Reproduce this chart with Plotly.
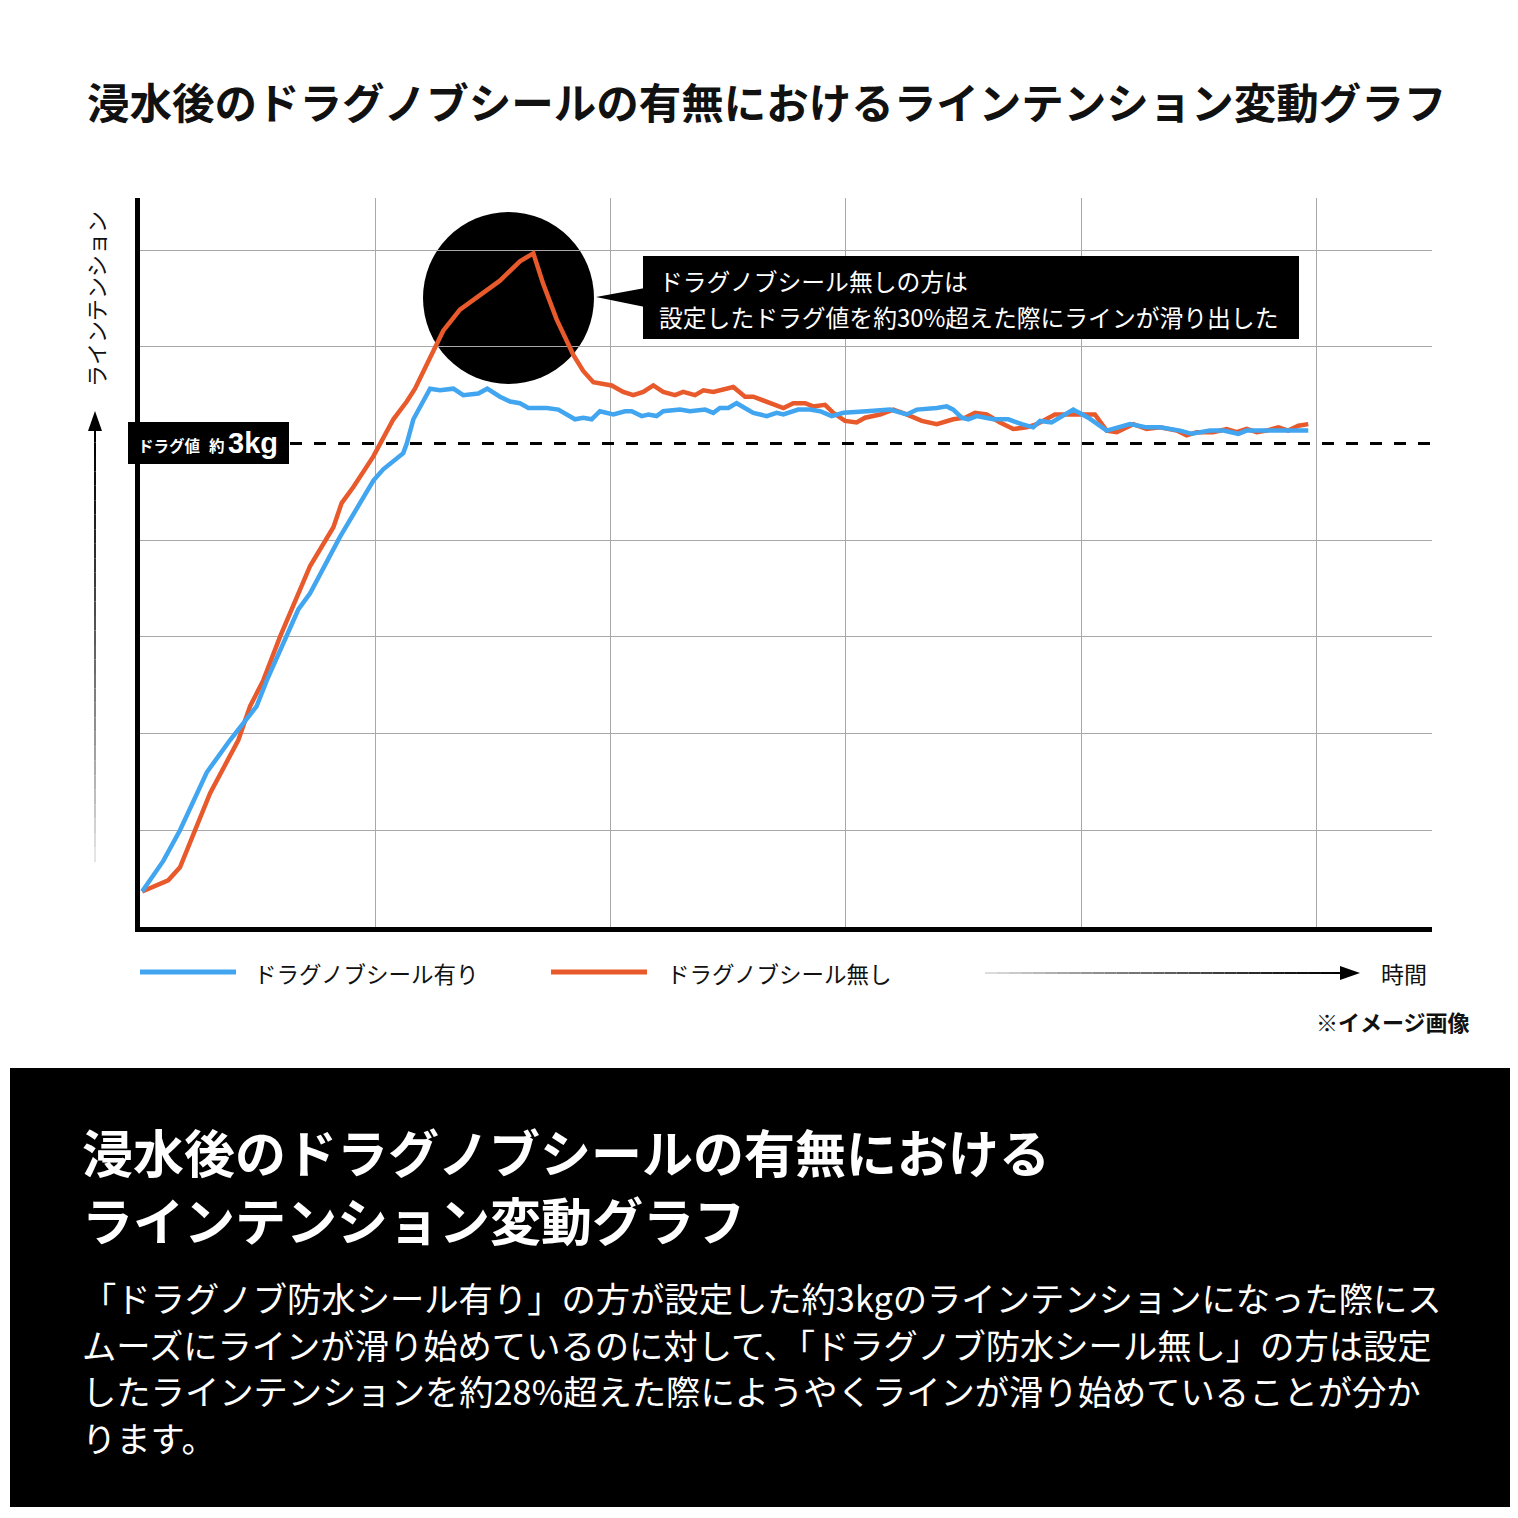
import plotly.graph_objects as go

# ---------------- data ----------------
time_blue = [0.09, 0.99, 1.70, 2.84, 3.83, 4.96, 5.39, 6.16, 6.73, 7.23,
             8.50, 9.92, 10.34, 11.19, 11.34, 11.62, 12.33, 12.75, 13.32, 13.74,
             14.38, 14.76, 15.30, 15.73, 16.15, 16.51, 17.29, 17.78, 18.49, 18.84,
             19.20, 19.55, 20.12, 20.62, 20.90, 21.33, 21.61, 21.96, 22.24, 22.95,
             23.38, 24.02, 24.37, 24.65, 25.01, 25.36, 26.07, 26.64, 27.06, 27.35,
             27.98, 28.48, 28.91, 29.40, 29.90, 30.89, 31.88, 32.59, 33.02, 33.87,
             34.29, 34.57, 34.93, 35.21, 35.57, 36.27, 36.91, 37.48, 37.97, 38.26,
             38.75, 39.67, 40.31, 41.09, 42.08, 42.79, 43.36, 44.21, 44.71, 45.48,
             46.05, 46.69, 47.04, 47.89, 48.46, 49.66]
tension_blue = [0.22, 0.41, 0.60, 0.96, 1.16, 1.37, 1.53, 1.78, 1.97, 2.07,
                2.42, 2.77, 2.84, 2.94, 3.00, 3.15, 3.34, 3.33, 3.34, 3.30,
                3.31, 3.34, 3.29, 3.26, 3.25, 3.22, 3.22, 3.21, 3.15, 3.16,
                3.15, 3.20, 3.18, 3.20, 3.20, 3.17, 3.18, 3.17, 3.20, 3.21,
                3.20, 3.21, 3.19, 3.22, 3.22, 3.25, 3.19, 3.17, 3.19, 3.18,
                3.21, 3.21, 3.20, 3.17, 3.19, 3.20, 3.21, 3.18, 3.21, 3.22,
                3.23, 3.21, 3.16, 3.15, 3.17, 3.15, 3.15, 3.12, 3.10, 3.14,
                3.13, 3.21, 3.16, 3.08, 3.12, 3.10, 3.10, 3.08, 3.06, 3.08,
                3.08, 3.06, 3.08, 3.08, 3.08, 3.08]

time_orange = [0.09, 1.20, 1.70, 2.27, 2.98, 4.18, 4.68, 5.24, 5.95, 7.23,
               7.79, 8.22, 8.57, 9.07, 9.92, 10.20, 10.77, 11.34, 11.69, 12.19,
               12.89, 13.60, 14.45, 15.30, 16.15, 16.37, 16.72, 17.14, 17.71, 18.42,
               18.84, 19.27, 20.05, 20.54, 20.97, 21.39, 21.82, 22.24, 22.74, 23.09,
               23.59, 23.95, 24.37, 25.22, 25.72, 26.07, 26.78, 27.35, 27.77, 28.27,
               28.62, 29.12, 29.47, 29.97, 30.46, 30.82, 31.46, 32.02, 32.59, 33.23,
               33.87, 34.57, 35.07, 35.49, 35.99, 36.56, 37.12, 37.69, 38.12, 38.89,
               39.67, 40.59, 41.09, 41.52, 42.22, 42.79, 43.36, 44.07, 44.49, 44.92,
               45.62, 46.19, 46.62, 47.04, 47.47, 47.89, 48.39, 48.81, 49.24, 49.66]
tension_orange = [0.22, 0.29, 0.37, 0.58, 0.83, 1.16, 1.37, 1.53, 1.80, 2.24,
                  2.38, 2.48, 2.63, 2.73, 2.92, 3.00, 3.15, 3.26, 3.34, 3.49,
                  3.70, 3.83, 3.92, 4.01, 4.13, 4.15, 4.18, 3.99, 3.77, 3.55,
                  3.45, 3.38, 3.36, 3.32, 3.30, 3.32, 3.36, 3.32, 3.30, 3.32,
                  3.30, 3.33, 3.32, 3.35, 3.29, 3.29, 3.25, 3.22, 3.25, 3.25,
                  3.23, 3.24, 3.19, 3.14, 3.13, 3.16, 3.18, 3.21, 3.18, 3.14,
                  3.12, 3.15, 3.16, 3.19, 3.18, 3.13, 3.09, 3.10, 3.12, 3.18,
                  3.18, 3.18, 3.08, 3.07, 3.12, 3.09, 3.10, 3.08, 3.05, 3.07,
                  3.07, 3.09, 3.07, 3.09, 3.07, 3.08, 3.10, 3.08, 3.11, 3.12]

drag_value = 3.0
x_grid = [10, 20, 30, 40, 50]
y_grid = [0.6, 1.2, 1.8, 2.4, 3.6, 4.2]
x_range = [0, 54.92]
y_range = [0, 4.523]

name_blue = "ドラグノブシール有り"
name_orange = "ドラグノブシール無し"
title_text = "浸水後のドラグノブシールの有無におけるラインテンション変動グラフ"
y_title = "ラインテンション"
x_title = "時間"
callout_lines = ["ドラグノブシール無しの方は", "設定したドラグ値を約30%超えた際にラインが滑り出した"]
heading_lines = ["浸水後のドラグノブシールの有無における", "ラインテンション変動グラフ"]
body_lines = [
    "「ドラグノブ防水シール有り」の方が設定した約3kgのラインテンションになった際にス",
    "ムーズにラインが滑り始めているのに対して、「ドラグノブ防水シール無し」の方は設定",
    "したラインテンションを約28%超えた際にようやくラインが滑り始めていることが分か",
    "ります。",
]

# ---------------- style / layout helpers ----------------
BLUE = "#42A5F0"
ORANGE = "#E8592B"
GRID = "#a8a8a8"
FONT = "Noto Sans CJK JP"
OFF = 8                      # page body margin
FW = FH = 1518 - 2 * OFF     # figure size
L, R, T, B = 140, 1432, 198, 927   # plot area in screen pixels


def px(x):
    return (x - L) / (R - L)


def py(y):
    return (B - y) / (B - T)


fig = go.Figure()
fig.add_trace(go.Scatter(x=time_orange, y=tension_orange, mode="lines", name=name_orange,
                         line=dict(color=ORANGE, width=4.5), hoverinfo="skip"))
fig.add_trace(go.Scatter(x=time_blue, y=tension_blue, mode="lines", name=name_blue,
                         line=dict(color=BLUE, width=4.5), hoverinfo="skip"))

shapes = []
annotations = []

# black circle highlight
shapes.append(dict(type="circle", xref="paper", yref="paper", layer="between",
                   x0=px(423), x1=px(594), y0=py(384), y1=py(212),
                   fillcolor="black", line=dict(width=0)))
# callout pointer + box
shapes.append(dict(type="path", xref="paper", yref="paper", layer="above",
                   path=f"M {px(596)} {py(297)} L {px(645)} {py(288)} L {px(645)} {py(307)} Z",
                   fillcolor="black", line=dict(width=0)))
shapes.append(dict(type="rect", xref="paper", yref="paper", layer="above",
                   x0=px(643), x1=px(1299), y0=py(339), y1=py(256),
                   fillcolor="black", line=dict(width=0)))
for i, s in enumerate(callout_lines):
    annotations.append(dict(text=s, xref="paper", yref="paper", x=px(657), y=py(280 + 36 * i),
                            xanchor="left", yanchor="middle", showarrow=False,
                            font=dict(family=FONT, size=23.8, color="white")))

# dashed drag-value line
shapes.append(dict(type="line", xref="paper", yref="y", x0=px(290), x1=1, y0=drag_value, y1=drag_value,
                   line=dict(color="black", width=3, dash="12px,12px"), layer="above"))
# drag value label box
shapes.append(dict(type="rect", xref="paper", yref="paper", layer="above",
                   x0=px(128), x1=px(289), y0=py(464), y1=py(422),
                   fillcolor="black", line=dict(width=0)))
annotations.append(dict(text="<b>ドラグ値</b>", xref="paper", yref="paper", x=px(136), y=py(445),
                        xanchor="left", yanchor="middle", showarrow=False,
                        font=dict(family=FONT, size=15.5, color="white")))
annotations.append(dict(text="<b>約</b>", xref="paper", yref="paper", x=px(207), y=py(445),
                        xanchor="left", yanchor="middle", showarrow=False,
                        font=dict(family=FONT, size=15.5, color="white")))
annotations.append(dict(text="<b>3kg</b>", xref="paper", yref="paper", x=px(226), y=py(443),
                        xanchor="left", yanchor="middle", showarrow=False,
                        font=dict(family="Liberation Sans", size=29, color="white")))

# title
annotations.append(dict(text=f"<b>{title_text}</b>", xref="paper", yref="paper", x=px(85), y=py(101),
                        xanchor="left", yanchor="middle", showarrow=False,
                        font=dict(family=FONT, size=42.5, color="#111111")))

# y axis title + gradient arrow
annotations.append(dict(text=y_title, xref="paper", yref="paper", x=px(95), y=py(299),
                        xanchor="center", yanchor="middle", textangle=-90, showarrow=False,
                        font=dict(family=FONT, size=22, color="#111111")))
nseg = 30
for i in range(nseg):
    y0 = 862 - (862 - 428) * i / nseg
    y1 = 862 - (862 - 428) * (i + 1) / nseg
    c = int(235 * (1 - (i + 0.5) / nseg) ** 1.3)
    shapes.append(dict(type="line", xref="paper", yref="paper", x0=px(95), x1=px(95),
                       y0=py(y0), y1=py(y1), line=dict(color=f"rgb({c},{c},{c})", width=2)))
shapes.append(dict(type="path", xref="paper", yref="paper",
                   path=f"M {px(95)} {py(411)} L {px(88)} {py(431)} L {px(102)} {py(431)} Z",
                   fillcolor="black", line=dict(width=0)))

# x axis gradient arrow + label
x_start, x_end = 985, 1344
for i in range(nseg):
    a = x_start + (x_end - x_start) * i / nseg
    b = x_start + (x_end - x_start) * (i + 1) / nseg
    c = int(225 * (1 - (i + 0.5) / nseg) ** 1.2)
    shapes.append(dict(type="line", xref="paper", yref="paper", x0=px(a), x1=px(b),
                       y0=py(973), y1=py(973), line=dict(color=f"rgb({c},{c},{c})", width=2)))
shapes.append(dict(type="path", xref="paper", yref="paper",
                   path=f"M {px(1360)} {py(973)} L {px(1340)} {py(966)} L {px(1340)} {py(980)} Z",
                   fillcolor="black", line=dict(width=0)))
annotations.append(dict(text=x_title, xref="paper", yref="paper", x=px(1379), y=py(973),
                        xanchor="left", yanchor="middle", showarrow=False,
                        font=dict(family=FONT, size=23, color="#111111")))

# custom legend
for (x0, x1, col, name, tx) in [(140, 236, BLUE, name_blue, 252), (551, 647, ORANGE, name_orange, 665)]:
    shapes.append(dict(type="line", xref="paper", yref="paper", x0=px(x0), x1=px(x1),
                       y0=py(972), y1=py(972), line=dict(color=col, width=5)))
    annotations.append(dict(text=name, xref="paper", yref="paper", x=px(tx), y=py(973),
                            xanchor="left", yanchor="middle", showarrow=False,
                            font=dict(family=FONT, size=22.5, color="#111111")))

annotations.append(dict(text="<b>※イメージ画像</b>", xref="paper", yref="paper", x=px(1472), y=py(1021),
                        xanchor="right", yanchor="middle", showarrow=False,
                        font=dict(family=FONT, size=22, color="#111111")))

# bottom explanation panel
shapes.append(dict(type="rect", xref="paper", yref="paper", layer="above",
                   x0=px(10), x1=px(1510), y0=py(1507), y1=py(1068),
                   fillcolor="black", line=dict(width=0)))
for i, s in enumerate(heading_lines):
    annotations.append(dict(text=f"<b>{s}</b>", xref="paper", yref="paper", x=px(80), y=py(1151 + 68 * i),
                            xanchor="left", yanchor="middle", showarrow=False,
                            font=dict(family=FONT, size=51, color="white")))
for i, s in enumerate(body_lines):
    annotations.append(dict(text=s, xref="paper", yref="paper", x=px(80), y=py(1297 + 46.7 * i),
                            xanchor="left", yanchor="middle", showarrow=False,
                            font=dict(family=FONT, size=34.3, color="white")))

fig.update_layout(
    width=FW, height=FH,
    margin=dict(l=L - OFF, r=FW - (R - OFF), t=T - OFF, b=FH - (B - OFF), pad=0),
    paper_bgcolor="white", plot_bgcolor="white",
    showlegend=False,
    shapes=shapes, annotations=annotations,
    font=dict(family=FONT),
)
fig.update_xaxes(range=x_range, tickvals=x_grid, showticklabels=False, ticks="",
                 showgrid=True, gridcolor=GRID, gridwidth=1, zeroline=False,
                 showline=True, linecolor="black", linewidth=5, fixedrange=True)
fig.update_yaxes(range=y_range, tickvals=y_grid, showticklabels=False, ticks="",
                 showgrid=True, gridcolor=GRID, gridwidth=1, zeroline=False,
                 showline=True, linecolor="black", linewidth=5, fixedrange=True)

fig.write_html("out.html")
